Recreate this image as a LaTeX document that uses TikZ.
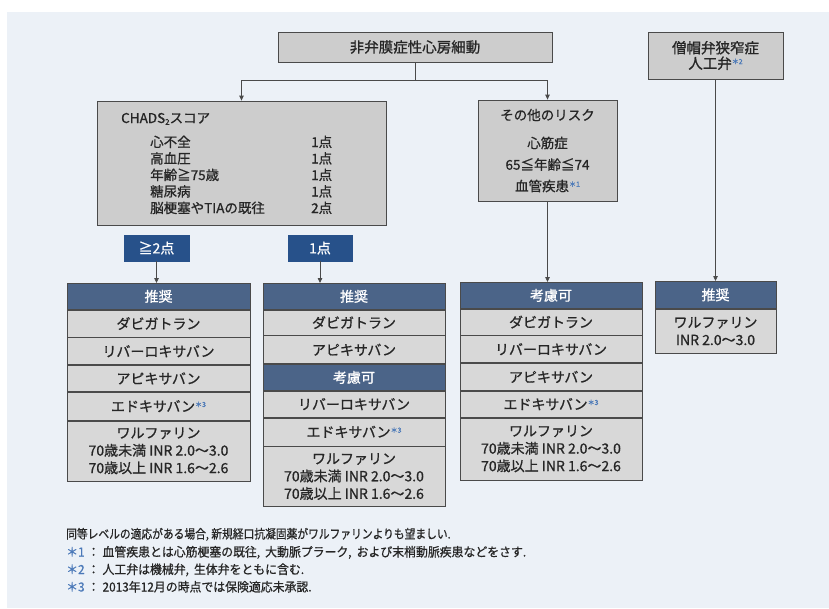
\documentclass[tikz,border=0pt]{standalone}
\usepackage{fontspec}
\setmainfont[FakeBold=0.9]{Noto Sans CJK JP}
\newfontfamily\fnfonta[FakeStretch=0.86,FakeBold=0.7]{Noto Sans CJK JP}
\newfontfamily\fnfontb[FakeStretch=0.95,FakeBold=0.7]{Noto Sans CJK JP}
\usetikzlibrary{arrows.meta}
\definecolor{bg}{HTML}{ECF1F7}
\definecolor{boxfill}{HTML}{CDCDCD}
\definecolor{cellfill}{HTML}{D8D8D8}
\definecolor{edge}{HTML}{4A4A4A}
\definecolor{head}{HTML}{4B6488}
\definecolor{lab}{HTML}{27518A}
\definecolor{astc}{HTML}{4A78B8}
\definecolor{ink}{HTML}{262626}
\newcommand{\fnmark}[1]{\raisebox{0.6ex}{\fontsize{7}{7}\selectfont\color{astc}＊#1}}
\newcommand{\fnstar}[1]{{\color{astc}＊#1}\hspace{3pt}：\hspace{3pt}}
\newcommand{\cm}{,\hspace{5pt}}
\begin{document}
\begin{tikzpicture}[x=1pt,y=-1pt,
  box/.style={draw=edge, line width=0.8pt, fill=boxfill, inner sep=0pt, text=ink, align=center},
  cell/.style={draw=edge, line width=0.7pt, fill=cellfill, inner sep=0pt, text=ink, align=center,
    font=\fontsize{14}{17.5}\selectfont, minimum height=#1, anchor=north},
  hdr/.style={cell=#1, fill=head, text=white},
  labbox/.style={fill=lab, draw=lab, inner sep=0pt, text=white, font=\fontsize{14}{16}\selectfont},
  txt/.style={text=ink, inner sep=0pt, font=\fontsize{13.5}{16}\selectfont},
  fn/.style={text=ink, inner sep=0pt, anchor=base west, font=\fnfontb\fontsize{12.5}{14}\selectfont},
  conn/.style={draw=edge, line width=0.8pt},
  arr/.style={conn, -{Triangle[length=5pt,width=4.5pt]}},
  w1/.style={minimum width=183pt},
  w2/.style={minimum width=182pt},
  w4/.style={minimum width=121pt}]
% background
\fill[white] (0,0) rectangle (829,608);
\fill[bg] (7,12) rectangle (829,608);
\useasboundingbox (0,0) rectangle (829,608);

% top boxes
\node[box, minimum width=274pt, minimum height=30pt, font=\fontsize{14.5}{16}\selectfont] (af) at (415,47) {非弁膜症性心房細動};
\node[box, minimum width=135pt, minimum height=47pt, font=\fontsize{14.5}{15.5}\selectfont] (ms) at (715.5,55.5) {僧帽弁狭窄症\\人工弁\fnmark{2}};

% CHADS box
\node[box, minimum width=289pt, minimum height=124pt] (chads) at (241.5,163) {};
\node[txt, anchor=base west] (ct) at (121,123) {CHADS\raisebox{-0.25ex}{\fontsize{8}{8}\selectfont 2}スコア};
\node[txt, anchor=base west] (c1) at (150,147) {心不全};
\node[txt, anchor=base west] (c2) at (150,163.5) {高血圧};
\node[txt, anchor=base west] (c3) at (150,180) {年齢≧75歳};
\node[txt, anchor=base west] (c4) at (150,196.5) {糖尿病};
\node[txt, anchor=base west] (c5) at (150,213) {脳梗塞やTIAの既往};
\node[txt, anchor=base west] (p1) at (311,147) {1点};
\node[txt, anchor=base west] (p2) at (311,163.5) {1点};
\node[txt, anchor=base west] (p3) at (311,180) {1点};
\node[txt, anchor=base west] (p4) at (311,196.5) {1点};
\node[txt, anchor=base west] (p5) at (311,213) {2点};

% other risk box
\node[box, minimum width=139pt, minimum height=101pt] (risk) at (547.5,150.5) {};
\node[txt] (r0) at (547.5,115) {その他のリスク};
\node[txt] (r1) at (547.5,143) {心筋症};
\node[txt] (r2) at (547.5,164.5) {65≦年齢≦74};
\node[txt] (r3) at (547.5,186) {血管疾患\fnmark{1}};

% top connectors
\coordinate (j) at (415,80);
\draw[conn] (af.south) -- (j);
\draw[arr] (j) -| (chads.north);
\draw[arr] (j) -| (risk.north);

% score labels
\node[labbox, minimum width=65pt, minimum height=26pt] (l2) at (156.5,248) {≧2点};
\node[labbox, minimum width=64pt, minimum height=26pt] (l1) at (320,248) {1点};

% table 1
\node[hdr=26pt, w1] (t1h) at (158.5,283) {推奨};
\node[cell=27pt, w1] (t1a) at (t1h.south) {ダビガトラン};
\node[cell=27pt, w1] (t1b) at (t1a.south) {リバーロキサバン};
\node[cell=26pt, w1] (t1c) at (t1b.south) {アピキサバン};
\node[cell=28pt, w1] (t1d) at (t1c.south) {エドキサバン\fnmark{3}};
\node[cell=60pt, w1] (t1e) at (t1d.south) {ワルファリン\\70歳未満 INR 2.0〜3.0\\70歳以上 INR 1.6〜2.6};

% table 2
\node[hdr=26pt, w2] (t2h) at (354,283) {推奨};
\node[cell=25pt, w2] (t2a) at (t2h.south) {ダビガトラン};
\node[cell=28pt, w2] (t2b) at (t2a.south) {アピキサバン};
\node[hdr=26pt, w2] (t2k) at (t2b.south) {考慮可};
\node[cell=26pt, w2] (t2c) at (t2k.south) {リバーロキサバン};
\node[cell=28pt, w2] (t2d) at (t2c.south) {エドキサバン\fnmark{3}};
\node[cell=60pt, w2] (t2e) at (t2d.south) {ワルファリン\\70歳未満 INR 2.0〜3.0\\70歳以上 INR 1.6〜2.6};

% table 3
\node[hdr=26pt, w2] (t3h) at (551,282) {考慮可};
\node[cell=26pt, w2] (t3a) at (t3h.south) {ダビガトラン};
\node[cell=27pt, w2] (t3b) at (t3a.south) {リバーロキサバン};
\node[cell=27pt, w2] (t3c) at (t3b.south) {アピキサバン};
\node[cell=26pt, w2] (t3d) at (t3c.south) {エドキサバン\fnmark{3}};
\node[cell=62pt, w2] (t3e) at (t3d.south) {ワルファリン\\70歳未満 INR 2.0〜3.0\\70歳以上 INR 1.6〜2.6};

% table 4
\node[hdr=27pt, w4] (t4h) at (715.5,281) {推奨};
\node[cell=44pt, w4] (t4a) at (t4h.south) {ワルファリン\\INR 2.0〜3.0};

% lower connectors
\draw[arr] (l2.south) -- (l2.south |- t1h.north);
\draw[arr] (l1.south) -- (l1.south |- t2h.north);
\draw[arr] (risk.south) -- (risk.south |- t3h.north);
\draw[arr] (ms.south) -- (ms.south |- t4h.north);

% footnotes
\node[fn, font=\fnfonta\fontsize{12.5}{14}\selectfont] (f0) at (66,538.5) {同等レベルの適応がある場合, 新規経口抗凝固薬がワルファリンよりも望ましい.};
\node[fn] (f1) at (66,556.5) {\fnstar{1}血管疾患とは心筋梗塞の既往\cm 大動脈プラーク\cm および末梢動脈疾患などをさす.};
\node[fn] (f2) at (66,574) {\fnstar{2}人工弁は機械弁\cm 生体弁をともに含む.};
\node[fn] (f3) at (66,591.5) {\fnstar{3}2013年12月の時点では保険適応未承認.};
\end{tikzpicture}
\end{document}
